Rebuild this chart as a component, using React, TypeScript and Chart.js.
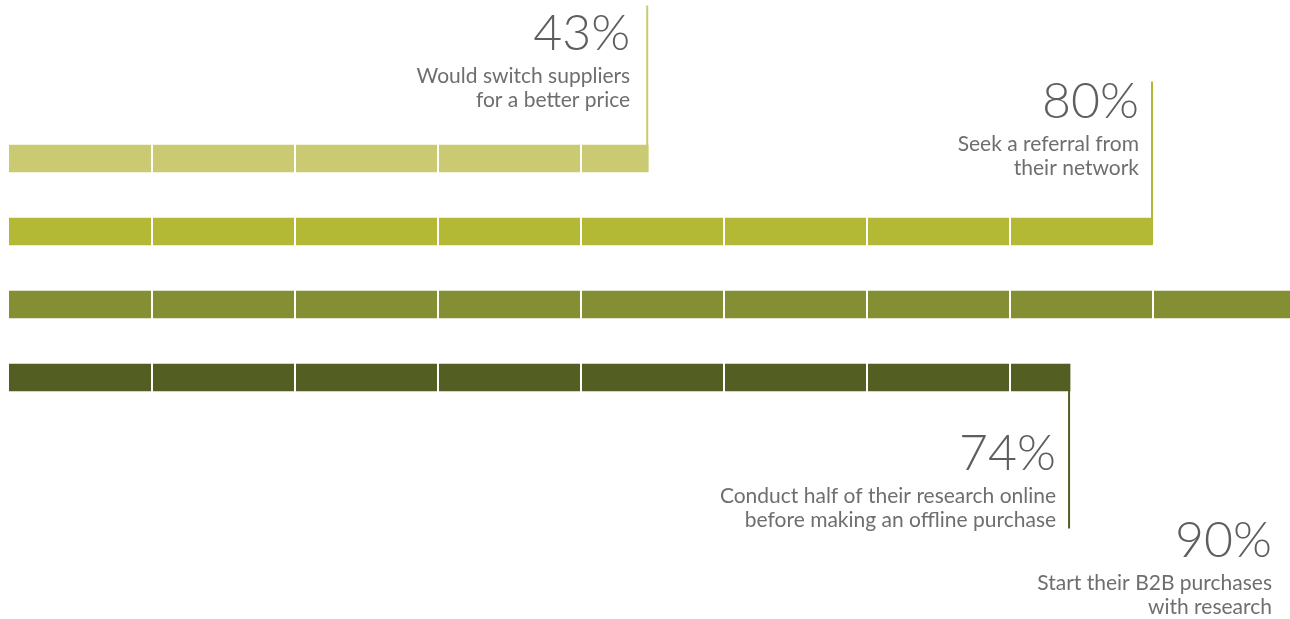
import React, { useEffect, useRef } from "react";
import { Chart, registerables } from "chart.js";

Chart.register(...registerables);

const categories = ["Switch for price", "Referral", "Start with research", "Research online"];
const barValues = [44.7, 80, 90, 74.2];
const valueLabels = ["43%", "80%", "90%", "74%"];
const captions = [
  ["Would switch suppliers", "for a better price"],
  ["Seek a referral from", "their network"],
  ["Start their B2B purchases", "with research"],
  ["Conduct half of their research online", "before making an offline purchase"],
];
const barColors = ["#c9ca72", "#b3b935", "#848e33", "#525e22"];
const segmentTicks = [10, 20, 30, 40, 50, 60, 70, 80];

// layout offsets relative to each bar's centre / end (styling only)
const labelLayout = [
  { baseline: -108.5, lineEnd: -153, line: true, textGap: 18 },
  { baseline: -113.5, lineEnd: -150, line: true, textGap: 14 },
  { baseline: 252.5, lineEnd: 0, line: false, textGap: 24 },
  { baseline: 92.5, lineEnd: 151, line: true, textGap: 14 },
];

const annotationPlugin = {
  id: "annotations",
  afterDatasetsDraw(chart: any) {
    const ctx = chart.ctx;
    const xs = chart.scales.x;
    const area = chart.chartArea;
    ctx.save();
    ctx.fillStyle = "#ffffff";
    segmentTicks.forEach((t) => {
      const x = Math.round(xs.getPixelForValue(t));
      ctx.fillRect(x - 1, area.top, 2, area.bottom - area.top);
    });
    ctx.restore();

    const meta = chart.getDatasetMeta(0);
    meta.data.forEach((bar: any, i: number) => {
      const lay = labelLayout[i];
      const endX = xs.getPixelForValue(barValues[i]);
      const cy = bar.y;
      const half = bar.height / 2;
      ctx.save();
      if (lay.line) {
        ctx.strokeStyle = barColors[i];
        ctx.lineWidth = 2;
        ctx.beginPath();
        const lx = endX - 1;
        ctx.moveTo(lx, cy + half);
        ctx.lineTo(lx, cy + lay.lineEnd);
        ctx.stroke();
      }
      const rightX = endX - lay.textGap;
      ctx.textAlign = "right";
      ctx.textBaseline = "alphabetic";
      ctx.fillStyle = "#5e5e5e";
      ctx.font = "300 50px Lato";
      ctx.fillText(valueLabels[i], rightX, cy + lay.baseline);
      ctx.fillStyle = "#6e6e6e";
      ctx.font = "400 21px Lato";
      ctx.fillText(captions[i][0], rightX, cy + lay.baseline + 33);
      ctx.fillText(captions[i][1], rightX, cy + lay.baseline + 57);
      ctx.restore();
    });
  },
};

export default function App() {
  const ref = useRef<HTMLCanvasElement>(null);
  useEffect(() => {
    if (!ref.current) return;
    const chart = new Chart(ref.current, {
      type: "bar",
      data: {
        labels: categories,
        datasets: [
          {
            data: barValues,
            backgroundColor: barColors,
            barThickness: 27,
            borderWidth: 0,
          },
        ],
      },
      options: {
        indexAxis: "y",
        animation: false,
        responsive: false,
        devicePixelRatio: 1,
        layout: { padding: { left: 9, right: 0, top: 122, bottom: 205 } },
        plugins: { legend: { display: false }, tooltip: { enabled: false } },
        scales: {
          x: { display: false, min: 0, max: 90 },
          y: { display: false },
        },
      },
      plugins: [annotationPlugin],
    });
    return () => chart.destroy();
  }, []);
  return (
    <div
      style={{
        position: "fixed",
        left: 0,
        top: 0,
        width: 1290,
        height: 619,
        overflow: "hidden",
        background: "#ffffff",
      }}
    >
      <canvas ref={ref} width={1296} height={619} style={{ display: "block" }} />
    </div>
  );
}
